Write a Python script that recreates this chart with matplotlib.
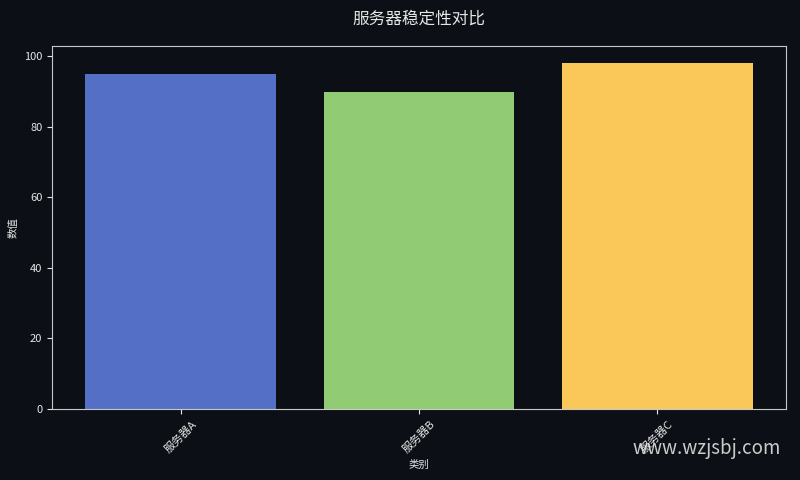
import matplotlib
matplotlib.use("Agg")
import matplotlib.pyplot as plt

plt.rcParams['font.family'] = ['Noto Sans CJK SC', 'DejaVu Sans']

categories = ["服务器A", "服务器B", "服务器C"]
values = [95, 90, 98]
colors = ["#5470c6", "#91cc75", "#fac858"]

bg = "#0c0f15"
fg = "#e6e6e6"

fig = plt.figure(figsize=(8, 4.8), dpi=100, facecolor=bg)
ax = fig.add_axes([0.065, 0.148, 0.9175, 0.756], facecolor=bg)

ax.bar(categories, values, color=colors, width=0.8)

ax.set_title("服务器稳定性对比", color=fg, fontsize=12, pad=16)
ax.set_xlabel("类别", color=fg, fontsize=7.5)
ax.set_ylabel("数值", color=fg, fontsize=7.5)
ax.tick_params(colors=fg, labelsize=8)
plt.setp(ax.get_xticklabels(), rotation=45)
for s in ax.spines.values():
    s.set_color("#c8c8c8")

fig.text(0.976, 0.066, "www.wzjsbj.com", color="#e0e0e0", fontsize=13.5, ha="right", va="center", alpha=0.9)

fig.savefig("out.png", facecolor=bg)
